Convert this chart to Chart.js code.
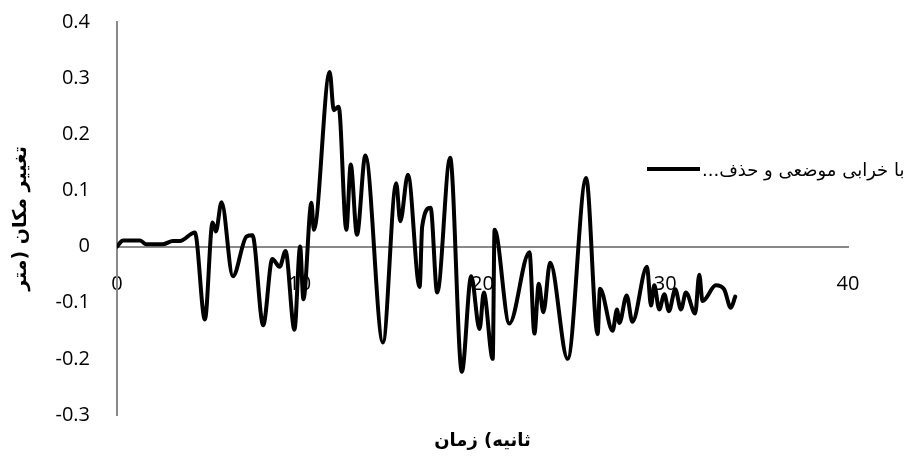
<!DOCTYPE html>
<html lang="fa">
<head>
<meta charset="utf-8">
<title>تغییر مکان - زمان</title>
<script src="https://cdn.jsdelivr.net/npm/chart.js@4.4.1/dist/chart.umd.min.js"></script>
<style>
  html, body { margin: 0; padding: 0; background: #fff; }
  #wrap { width: 906px; height: 457px; }
</style>
</head>
<body>
<div id="wrap"><canvas id="chart-disp" width="906" height="457"></canvas></div>
<script>
// ─── Data ────────────────────────────────────────────────
const timeSec = [
  0, 0.33, 1.26, 1.6, 2.5, 3.06, 3.44, 4.26, 4.81, 5.23,
  5.41, 5.72, 6.34, 7.09, 7.41, 8.0, 8.5, 8.9, 9.22, 9.71,
  10.02, 10.2, 10.64, 10.77, 11.64, 11.86, 12.13, 12.55, 12.79, 13.13,
  13.59, 14.55, 15.28, 15.5, 15.92, 16.56, 16.7, 17.16, 17.52, 18.23,
  18.87, 19.38, 19.84, 20.07, 20.56, 20.66, 21.47, 22.57, 22.84, 23.08,
  23.33, 23.7, 24.66, 25.67, 26.3, 26.43, 27.12, 27.36, 27.49, 27.89,
  28.2, 29.0, 29.22, 29.4, 29.67, 29.95, 30.2, 30.55, 30.86, 31.13,
  31.64, 31.86, 32.04, 32.77, 33.22, 33.59, 33.83
];
const displacement = [
  0, 0.011, 0.011, 0.004, 0.004, 0.01, 0.01, 0.025, -0.13, 0.043,
  0.027, 0.079, -0.053, 0.018, 0.02, -0.14, -0.022, -0.036, -0.008, -0.148,
  0, -0.094, 0.078, 0.03, 0.311, 0.243, 0.249, 0.03, 0.146, 0.021,
  0.162, -0.171, 0.113, 0.045, 0.128, -0.072, 0.036, 0.069, -0.082, 0.158,
  -0.223, -0.053, -0.147, -0.082, -0.2, 0.03, -0.137, -0.01, -0.155, -0.066,
  -0.117, -0.029, -0.2, 0.122, -0.156, -0.075, -0.15, -0.112, -0.136, -0.087,
  -0.134, -0.036, -0.105, -0.069, -0.112, -0.085, -0.115, -0.076, -0.112, -0.082,
  -0.119, -0.05, -0.097, -0.069, -0.076, -0.109, -0.089
];
const seriesLabel = 'با خرابی موضعی و حذف...';
const xTicks = [0, 10, 20, 30, 40];
const yTicks = [-0.3, -0.2, -0.1, 0, 0.1, 0.2, 0.3, 0.4];
// LRM marks keep the words in the left-to-right order seen in the picture
const xTitle = '\u200Eزمان\u200E (\u200Eثانیه';
const yTitle = 'تغییر مکان (متر';

const AXIS_GREY = '#898989';
const TICK_FONT = { family: '"Open Sans", "Noto Sans", sans-serif', size: 20 };
const TITLE_FONT = { family: '"DejaVu Sans", sans-serif', size: 19, weight: 'bold' };

// ─── Legend drawn over the plot, as in the picture ───────
const inlineLegend = {
  id: 'inlineLegend',
  afterDraw(chart) {
    const ds = chart.data.datasets[0];
    const { ctx } = chart;
    const y = 169;
    ctx.save();
    ctx.strokeStyle = ds.borderColor;
    ctx.lineWidth = ds.borderWidth;
    ctx.beginPath();
    ctx.moveTo(647, y);
    ctx.lineTo(700, y);
    ctx.stroke();
    ctx.fillStyle = '#000';
    ctx.font = '18px "DejaVu Sans", sans-serif';
    ctx.direction = 'rtl';
    ctx.textAlign = 'left';
    ctx.textBaseline = 'middle';
    ctx.fillText(ds.label, 702, y + 2);
    ctx.restore();
  }
};

function setTicks(values) {
  return (scale) => { scale.ticks = values.map(v => ({ value: v })); };
}

new Chart(document.getElementById('chart-disp'), {
  type: 'line',
  data: {
    datasets: [{
      label: seriesLabel,
      data: timeSec.map((t, i) => ({ x: t, y: displacement[i] })),
      borderColor: '#000000',
      borderWidth: 4,
      pointRadius: 0,
      fill: false,
      cubicInterpolationMode: 'monotone',
      borderJoinStyle: 'round',
      borderCapStyle: 'round',
    }],
  },
  options: {
    responsive: false,
    animation: false,
    layout: { padding: { top: 22, right: 58, left: 0, bottom: 0 } },
    plugins: {
      legend: { display: false },
      tooltip: { enabled: false },
      title: {
        display: true,
        position: 'bottom',
        fullSize: false,
        text: xTitle,
        color: '#000',
        font: { ...TITLE_FONT, size: 18 },
        padding: { top: 16, bottom: 4.4 },
      },
      subtitle: {
        display: true,
        position: 'left',
        fullSize: false,
        text: yTitle,
        color: '#000',
        font: TITLE_FONT,
        padding: 10,
      },
    },
    scales: {
      x: {
        type: 'linear',
        position: { y: 0 },
        min: xTicks[0],
        max: xTicks[xTicks.length - 1],
        afterBuildTicks: setTicks(xTicks),
        grid: { display: false, drawTicks: false },
        border: { display: true, color: AXIS_GREY, width: 2 },
        ticks: { color: '#000', font: TICK_FONT, padding: 26, maxRotation: 0, autoSkip: false },
      },
      y: {
        type: 'linear',
        min: yTicks[0],
        max: yTicks[yTicks.length - 1],
        afterBuildTicks: setTicks(yTicks),
        afterFit: (s) => { s.width = 74.2; s.paddingTop = 0; s.paddingBottom = 0; },
        grid: { display: false, drawTicks: false },
        border: { display: true, color: AXIS_GREY, width: 2 },
        ticks: { color: '#000', font: TICK_FONT, padding: 27, callback: (v) => String(v) },
      },
    },
  },
  plugins: [inlineLegend],
});
</script>
</body>
</html>
